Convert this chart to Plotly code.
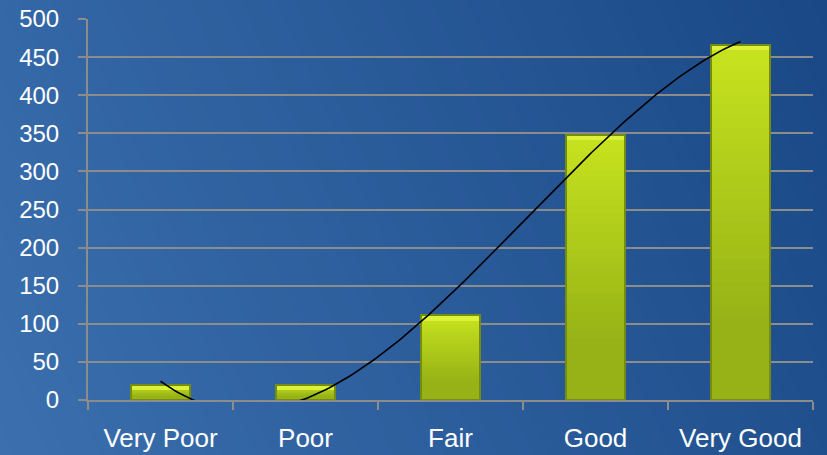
import numpy as np
import plotly.graph_objects as go

# Survey ratings and response counts
categories = ["Very Poor", "Poor", "Fair", "Good", "Very Good"]
counts = [20, 20, 111, 348, 466]
y_ticks = [0, 50, 100, 150, 200, 250, 300, 350, 400, 450, 500]

W, H = 827, 455
M_L, M_R, M_T, M_B = 88, 14, 19, 55
PW, PH = W - M_L - M_R, H - M_T - M_B

counts_arr = np.array(counts, dtype=float)
pos = np.arange(len(categories))

# Cubic trend line fitted to the counts
coef = np.polyfit(pos, counts_arr, 3)
tx = np.linspace(pos[0], pos[-1], 200)
ty = np.polyval(coef, tx)


def hex_to_rgb(h):
    h = h.lstrip("#")
    return np.array([int(h[i:i + 2], 16) for i in (0, 2, 4)], dtype=float)


def mix(c0, c1, t):
    c = hex_to_rgb(c0) * (1 - t) + hex_to_rgb(c1) * t
    return "rgb(%d,%d,%d)" % tuple(np.round(c))


def to_paper(X, Yup):
    return (X - M_L) / PW, (Yup - M_B) / PH


# Diagonal background gradient built from thin bands
shapes = []
u = np.array([1.0, 0.45])
u /= np.linalg.norm(u)
v = np.array([-u[1], u[0]])
corners = np.array([[0, 0], [W, 0], [0, H], [W, H]], dtype=float)
proj = corners @ u
s_min, s_max = proj.min(), proj.max()
n_bands = 60
edges = np.linspace(s_min - 2, s_max + 2, n_bands + 1)
L = 2000
for k in range(n_bands):
    s0, s1 = edges[k], edges[k + 1] + 1.0
    pts = [s0 * u - L * v, s0 * u + L * v, s1 * u + L * v, s1 * u - L * v]
    path = ""
    for i, p in enumerate(pts):
        xp, yp = to_paper(p[0], p[1])
        path += ("M" if i == 0 else "L") + f"{xp:.5f},{yp:.5f} "
    path += "Z"
    t = k / (n_bands - 1)
    shapes.append(dict(type="path", path=path, xref="paper", yref="paper",
                       fillcolor=mix("#3b6fae", "#1a4886", t),
                       line=dict(width=0), layer="below"))

fig = go.Figure()

BAR_W = 0.41

# Bar body: lighter at the top, olive towards the base
layers = 24
for k in range(layers):
    frac = 1 - k * (0.8 / layers)
    fig.add_trace(go.Bar(
        x=categories, y=counts_arr * frac, width=BAR_W,
        marker=dict(color=mix("#c6e21e", "#96b216", k / (layers - 1)),
                    line=dict(width=0)),
        hoverinfo="skip", showlegend=False))

# Bright bevel along the top edge
fig.add_trace(go.Bar(
    x=categories, y=[7] * len(counts), base=counts_arr - 7, width=BAR_W,
    marker=dict(color="#dcf23a", line=dict(width=0)),
    hoverinfo="skip", showlegend=False))

# Outline of each bar
fig.add_trace(go.Bar(
    x=categories, y=counts, width=BAR_W,
    marker=dict(color="rgba(0,0,0,0)", line=dict(color="#748c12", width=2)),
    name="Responses", showlegend=False))

# Trend line on a hidden linear axis sharing the category positions
fig.add_trace(go.Scatter(
    x=tx, y=ty, xaxis="x2", yaxis="y", mode="lines",
    line=dict(color="black", width=1.6), hoverinfo="skip", showlegend=False))

grid_col = "#8c8c8c"
fig.update_layout(
    width=W, height=H,
    margin=dict(l=M_L, r=M_R, t=M_T, b=M_B, autoexpand=False),
    paper_bgcolor="#2a5c9c",
    plot_bgcolor="rgba(0,0,0,0)",
    barmode="overlay",
    bargap=0,
    shapes=shapes,
    font=dict(family="Liberation Sans, Arial, sans-serif", color="white", size=24),
    xaxis=dict(
        type="category", range=[-0.5, 4.5], automargin=False,
        showline=True, linecolor=grid_col, linewidth=2,
        ticks="outside", tickson="boundaries", ticklen=8, tickcolor=grid_col,
        tickwidth=2, showgrid=False, ticklabelstandoff=14,
        tickfont=dict(size=26, color="white")),
    xaxis2=dict(overlaying="x", range=[-0.5, 4.5], visible=False),
    yaxis=dict(
        range=[0, 500], tickvals=y_ticks, ticktext=[str(t) for t in y_ticks],
        automargin=False,
        showline=True, linecolor=grid_col, linewidth=2,
        ticks="outside", ticklen=8, tickcolor=grid_col, tickwidth=2,
        showgrid=True, gridcolor=grid_col, gridwidth=2,
        zeroline=False, ticklabelstandoff=14,
        tickfont=dict(size=24, color="white")),
)

fig.write_html("out.html")
